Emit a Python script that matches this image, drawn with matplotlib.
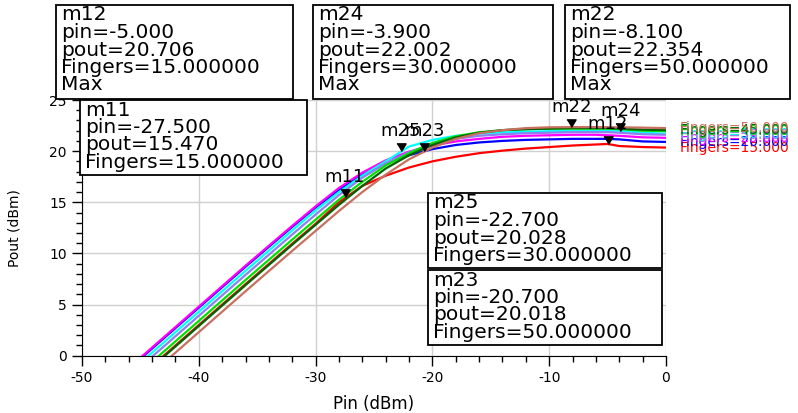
import matplotlib
matplotlib.use("Agg")
import matplotlib.pyplot as plt
from matplotlib.patches import Rectangle
from matplotlib.ticker import MultipleLocator

plt.rcParams['font.family'] = ['DejaVu Sans']
plt.rcParams['axes.unicode_minus'] = False

# swept input power (dBm)
pin = [-46, -44, -42, -40, -36, -32, -30, -28, -26, -24, -22, -20,
       -18, -16, -14, -12, -10, -8, -6, -5, -4, -2, 0]

fingers = [15, 20, 25, 30, 35, 40, 45, 50]

pout_f15 = [-3.0, -1.0, 1.0, 3.0, 7.0, 10.95, 12.9, 15.0, 16.6, 17.6, 18.4, 19.0,
            19.45, 19.8, 20.05, 20.25, 20.4, 20.55, 20.65, 20.7, 20.5, 20.4, 20.35]
pout_f20 = [-1.3, 0.7, 2.7, 4.7, 8.7, 12.6, 14.5, 16.2, 17.7, 18.8, 19.6, 20.2,
            20.6, 20.85, 21.0, 21.1, 21.15, 21.2, 21.2, 21.2, 21.15, 20.95, 20.9]
pout_f25 = [-1.2, 0.8, 2.8, 4.8, 8.8, 12.7, 14.6, 16.4, 17.9, 19.1, 19.95, 20.55,
            20.95, 21.2, 21.4, 21.5, 21.55, 21.6, 21.6, 21.55, 21.5, 21.35, 21.3]
pout_f30 = [-1.7, 0.3, 2.3, 4.3, 8.3, 12.25, 14.2, 16.0, 17.6, 19.0, 20.45, 21.1,
            21.5, 21.7, 21.82, 21.9, 21.95, 21.97, 21.99, 22.0, 22.0, 21.8, 21.7]
pout_f35 = [-2.1, -0.1, 1.9, 3.9, 7.9, 11.85, 13.8, 15.7, 17.4, 18.8, 19.9, 20.7,
            21.2, 21.5, 21.65, 21.75, 21.8, 21.85, 21.85, 21.85, 21.8, 21.65, 21.6]
pout_f40 = [-2.6, -0.6, 1.4, 3.4, 7.4, 11.35, 13.3, 15.25, 17.0, 18.6, 19.8, 20.8,
            21.45, 21.85, 22.05, 22.15, 22.2, 22.2, 22.2, 22.2, 22.15, 22.0, 21.95]
pout_f45 = [-3.1, -1.1, 0.9, 2.9, 6.9, 10.85, 12.8, 14.75, 16.6, 18.3, 19.6, 20.6,
            21.35, 21.8, 22.05, 22.15, 22.2, 22.25, 22.25, 22.25, 22.2, 22.1, 22.05]
pout_f50 = [-3.7, -1.7, 0.3, 2.3, 6.3, 10.25, 12.2, 14.15, 16.0, 17.7, 19.2, 20.35,
            21.2, 21.75, 22.05, 22.25, 22.33, 22.35, 22.35, 22.34, 22.33, 22.3, 22.25]

curves = [pout_f15, pout_f20, pout_f25, pout_f30, pout_f35, pout_f40, pout_f45, pout_f50]
colors = ['#ff0000', '#0000ff', '#ff00ff', '#00ffff', '#8f7fef', '#00e000', '#006400', '#c87060']

# markers
mk_names = ['m11', 'm25', 'm23', 'm22', 'm12', 'm24']
mk_pin = [-27.5, -22.7, -20.7, -8.1, -5.0, -3.9]
mk_pout = [15.470, 20.028, 20.018, 22.354, 20.706, 22.002]
mk_fingers = [15, 30, 50, 50, 15, 30]
mk_max = [False, False, False, True, True, True]

W, H = 798, 413
fig = plt.figure(figsize=(W/100, H/100), dpi=100)
ax = fig.add_axes([82/W, 1 - 355.7/H, 584/W, 255.7/H])

for ys, c in zip(curves, colors):
    ax.plot(pin, ys, color=c, lw=1.6, solid_joinstyle='round')

ax.set_xlim(-50, 0)
ax.set_ylim(0, 25)
ax.xaxis.set_major_locator(MultipleLocator(10))
ax.xaxis.set_minor_locator(MultipleLocator(2))
ax.yaxis.set_major_locator(MultipleLocator(5))
ax.yaxis.set_minor_locator(MultipleLocator(1))
ax.grid(True, which='major', color='#d0d0d0', lw=1.0)
ax.set_axisbelow(True)
for s in ['top', 'right']:
    ax.spines[s].set_visible(False)
ax.tick_params(which='major', length=7, width=1, labelsize=10, pad=4)
ax.tick_params(which='minor', length=4, width=1)
ax.set_xlabel('Pin (dBm)', fontsize=12, labelpad=7)
ax.set_ylabel('Pout (dBm)', fontsize=10, labelpad=20)

# trace labels at right end
for f, ys, c in zip(fingers, curves, colors):
    ax.annotate('Fingers=%d.000' % f, xy=(0, ys[-1]), xytext=(10, 0),
                textcoords='offset points', color=c, fontsize=10,
                va='center', ha='left', annotation_clip=False)

# marker triangles and names
tri = [(-0.6, 1.0), (0.6, 1.0), (0.0, 0.0)]
for n, x, y in zip(mk_names, mk_pin, mk_pout):
    ax.plot([x], [y], marker=tri, markersize=11, color='black', ls='none')
    ax.annotate(n, xy=(x, y), xytext=(0, 8), textcoords='offset points',
                ha='center', va='bottom', fontsize=13)

# marker readout boxes: left, top, right, bottom in pixels
box_pos = {'m12': (56, 5, 293, 99), 'm24': (313, 5, 553, 99),
           'm22': (565, 5, 790, 99), 'm11': (80, 100, 307, 175),
           'm25': (428, 193, 662, 268), 'm23': (428, 270, 662, 345)}
for n, x, y, f, m in zip(mk_names, mk_pin, mk_pout, mk_fingers, mk_max):
    txt = '%s\npin=%.3f\npout=%.3f\nFingers=%.6f' % (n, x, y, f)
    if m:
        txt += '\nMax'
    l, t, r, b = box_pos[n]
    fig.add_artist(Rectangle((l/W, 1 - b/H), (r - l)/W, (b - t)/H,
                             transform=fig.transFigure, fc='white',
                             ec='black', lw=1.3, zorder=4))
    fig.text((l + 5)/W, 1 - (t + 0.5)/H, txt, ha='left', va='top', fontsize=14.5,
             linespacing=0.9, zorder=5)

fig.savefig('out.png', dpi=100)
